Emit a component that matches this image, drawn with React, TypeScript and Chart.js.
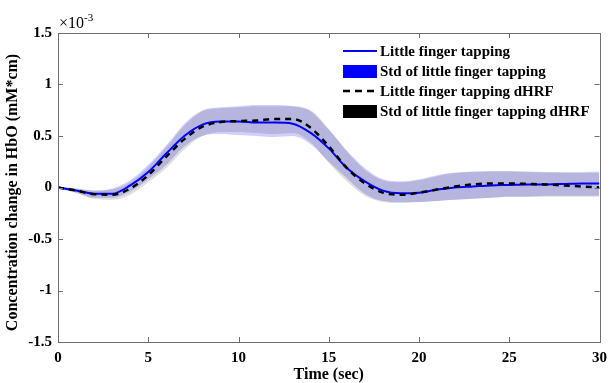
import React, { useEffect, useRef } from 'react';
import { Chart, registerables } from 'chart.js';

Chart.register(...registerables);

// Time axis (sec)
const timeSec = [0, 1, 2, 3, 4, 5, 6, 7, 8, 9, 10, 11, 12, 13, 14, 15, 16, 17, 18, 19, 20, 21, 22, 23, 24, 25, 26, 27, 28, 29, 30];

// Values in units of 1e-3 mM*cm
const meanTapping = [0, -0.03, -0.06, -0.06, 0.02, 0.15, 0.33, 0.5, 0.61, 0.64, 0.64, 0.63, 0.63, 0.62, 0.53, 0.38, 0.19, 0.06, -0.03, -0.055, -0.05, -0.02, 0.0, 0.01, 0.02, 0.025, 0.03, 0.03, 0.035, 0.04, 0.04];
const upperTapping = [0.01, -0.01, -0.03, -0.01, 0.07, 0.22, 0.41, 0.62, 0.75, 0.78, 0.79, 0.8, 0.8, 0.79, 0.74, 0.56, 0.36, 0.19, 0.08, 0.06, 0.08, 0.12, 0.145, 0.155, 0.16, 0.16, 0.155, 0.15, 0.15, 0.15, 0.155];
const lowerTapping = [-0.01, -0.05, -0.1, -0.1, -0.04, 0.08, 0.22, 0.4, 0.5, 0.52, 0.51, 0.5, 0.49, 0.5, 0.42, 0.25, 0.09, -0.06, -0.13, -0.14, -0.14, -0.13, -0.12, -0.11, -0.1, -0.09, -0.09, -0.08, -0.08, -0.08, -0.08];

const meanDHRF = [0, -0.03, -0.065, -0.07, -0.01, 0.12, 0.3, 0.47, 0.59, 0.635, 0.645, 0.65, 0.665, 0.665, 0.58, 0.4, 0.19, 0.04, -0.05, -0.07, -0.05, -0.02, 0.01, 0.03, 0.04, 0.04, 0.035, 0.03, 0.02, 0.01, 0.0];
const upperDHRF = [0.01, -0.01, -0.03, -0.02, 0.05, 0.2, 0.39, 0.6, 0.74, 0.77, 0.78, 0.79, 0.79, 0.79, 0.75, 0.57, 0.35, 0.17, 0.07, 0.05, 0.07, 0.11, 0.14, 0.15, 0.155, 0.155, 0.15, 0.145, 0.14, 0.14, 0.14];
const lowerDHRF = [-0.01, -0.05, -0.11, -0.12, -0.07, 0.05, 0.19, 0.37, 0.5, 0.54, 0.54, 0.53, 0.52, 0.53, 0.44, 0.24, 0.06, -0.08, -0.14, -0.15, -0.14, -0.13, -0.12, -0.11, -0.1, -0.09, -0.09, -0.09, -0.09, -0.09, -0.09];

const xTicks = [0, 5, 10, 15, 20, 25, 30];
const yTicks = [-1.5, -1, -0.5, 0, 0.5, 1, 1.5];

const legendLabels = [
  'Little finger tapping',
  'Std of little finger tapping',
  'Little finger tapping dHRF',
  'Std of little finger tapping dHRF',
];

const FONT = '"Liberation Serif", "Times New Roman", serif';

const toXY = (vals: number[]) => vals.map((v, i) => ({ x: timeSec[i], y: v }));

const decorPlugin = {
  id: 'decor',
  afterDraw(chart: any) {
    const { ctx, chartArea: a, scales } = chart;
    const xs = scales.x;
    const ys = scales.y;
    ctx.save();
    // box
    ctx.strokeStyle = '#6e6e6e';
    ctx.lineWidth = 1;
    ctx.strokeRect(Math.round(a.left) + 0.5, Math.round(a.top) + 0.5, Math.round(a.right - a.left), Math.round(a.bottom - a.top));
    // inward ticks
    ctx.beginPath();
    const tl = 5;
    xTicks.forEach((t) => {
      const px = Math.round(xs.getPixelForValue(t)) + 0.5;
      ctx.moveTo(px, a.bottom);
      ctx.lineTo(px, a.bottom - tl);
      ctx.moveTo(px, a.top);
      ctx.lineTo(px, a.top + tl);
    });
    yTicks.forEach((t) => {
      const py = Math.round(ys.getPixelForValue(t)) + 0.5;
      ctx.moveTo(a.left, py);
      ctx.lineTo(a.left + tl, py);
      ctx.moveTo(a.right, py);
      ctx.lineTo(a.right - tl, py);
    });
    ctx.stroke();

    ctx.fillStyle = '#000';
    // exponent
    ctx.font = `16px ${FONT}`;
    ctx.textAlign = 'left';
    ctx.textBaseline = 'alphabetic';
    ctx.fillText('\u00d710', a.left + 1, a.top - 5);
    const w = ctx.measureText('\u00d710').width;
    ctx.font = `11px ${FONT}`;
    ctx.fillText('-3', a.left + 1 + w, a.top - 12);

    // axis titles
    ctx.font = `bold 16px ${FONT}`;
    ctx.textAlign = 'center';
    ctx.textBaseline = 'middle';
    ctx.fillText('Time (sec)', (a.left + a.right) / 2, 375);
    ctx.save();
    ctx.translate(13, (a.top + a.bottom) / 2 + 5);
    ctx.rotate(-Math.PI / 2);
    ctx.fillText('Concentration change in HbO (mM*cm)', 0, 0);
    ctx.restore();

    // legend
    ctx.font = `bold 15px ${FONT}`;
    const lx = 343;
    const lw = 34;
    const rows = [51, 71, 91, 111];
    ctx.textAlign = 'left';
    ctx.textBaseline = 'middle';
    rows.forEach((ry, i) => {
      if (i === 0) {
        ctx.strokeStyle = '#0000ff';
        ctx.lineWidth = 2;
        ctx.setLineDash([]);
        ctx.beginPath();
        ctx.moveTo(lx, ry);
        ctx.lineTo(lx + lw, ry);
        ctx.stroke();
      } else if (i === 1) {
        ctx.fillStyle = '#0000ff';
        ctx.fillRect(lx, ry - 6, lw, 13);
      } else if (i === 2) {
        ctx.strokeStyle = '#000';
        ctx.lineWidth = 2.5;
        ctx.setLineDash([7, 5]);
        ctx.beginPath();
        ctx.moveTo(lx, ry);
        ctx.lineTo(lx + lw, ry);
        ctx.stroke();
        ctx.setLineDash([]);
      } else {
        ctx.fillStyle = '#000';
        ctx.fillRect(lx, ry - 6, lw, 13);
      }
      ctx.fillStyle = '#000';
      ctx.fillText(legendLabels[i], lx + lw + 3, ry + 1);
    });
    ctx.restore();
  },
};

export default function App() {
  const ref = useRef<HTMLCanvasElement | null>(null);
  useEffect(() => {
    if (!ref.current) return;
    const common = { pointRadius: 0, cubicInterpolationMode: 'monotone' as const };
    const tickFont = { family: FONT, size: 15, weight: 'bold' as const };
    const chart = new Chart(ref.current, {
      type: 'line',
      data: {
        datasets: [
          { label: 'lowerTapping', data: toXY(lowerTapping), borderWidth: 0, borderColor: 'rgba(0,0,0,0)', fill: false, order: 10, ...common },
          { label: 'upperTapping', data: toXY(upperTapping), borderWidth: 0, borderColor: 'rgba(0,0,0,0)', backgroundColor: 'rgba(0,0,255,0.19)', fill: 0, order: 9, ...common },
          { label: 'lowerDHRF', data: toXY(lowerDHRF), borderWidth: 0, borderColor: 'rgba(0,0,0,0)', fill: false, order: 8, ...common },
          { label: 'upperDHRF', data: toXY(upperDHRF), borderWidth: 0, borderColor: 'rgba(0,0,0,0)', backgroundColor: 'rgba(0,0,0,0.13)', fill: 2, order: 7, ...common },
          { label: legendLabels[0], data: toXY(meanTapping), borderColor: '#0000ff', borderWidth: 2, fill: false, order: 2, ...common },
          { label: legendLabels[2], data: toXY(meanDHRF), borderColor: '#000000', borderWidth: 2.5, borderDash: [6, 5], fill: false, order: 1, ...common },
        ],
      },
      options: {
        animation: false,
        responsive: false,
        devicePixelRatio: 1,
        layout: { padding: { left: 0, right: 8, top: 33, bottom: 0 } },
        plugins: { legend: { display: false }, tooltip: { enabled: false } },
        scales: {
          x: {
            type: 'linear',
            min: 0,
            max: 30,
            afterFit: (s: any) => { s.height = 41; },
            afterBuildTicks: (s: any) => { s.ticks = xTicks.map((v) => ({ value: v })); },
            grid: { display: false, drawTicks: false },
            border: { display: false },
            ticks: { color: '#000', padding: 7, font: tickFont, maxRotation: 0, autoSkip: false, callback: (v: any) => String(v) },
          },
          y: {
            type: 'linear',
            min: -1.5,
            max: 1.5,
            afterFit: (s: any) => { s.width = 58; },
            afterBuildTicks: (s: any) => { s.ticks = yTicks.map((v) => ({ value: v })); },
            grid: { display: false, drawTicks: false },
            border: { display: false },
            ticks: { color: '#000', padding: 6, font: tickFont, autoSkip: false, callback: (v: any) => String(v) },
          },
        },
      },
      plugins: [decorPlugin],
    });
    return () => chart.destroy();
  }, []);
  return (
    <div style={{ position: 'fixed', left: 0, top: 0, width: 614, height: 383, background: '#fff' }}>
      <canvas ref={ref} width={614} height={383} style={{ width: 614, height: 383, display: 'block' }} />
    </div>
  );
}
